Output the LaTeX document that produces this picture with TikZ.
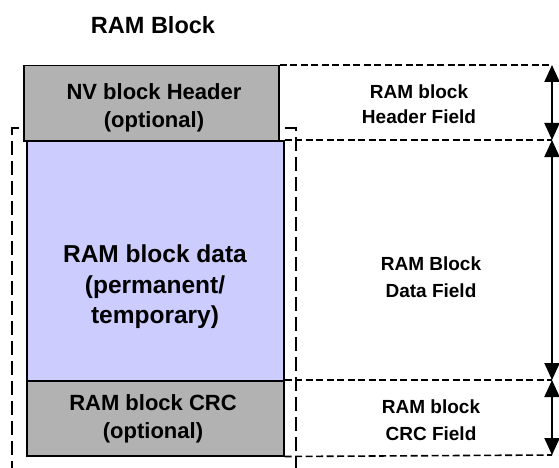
\documentclass[tikz,border=0pt]{standalone}
\usepackage{fontspec}
\setmainfont{Liberation Sans}
\usetikzlibrary{arrows.meta}
\definecolor{boxgray}{RGB}{178,178,178}
\definecolor{datablue}{RGB}{204,204,255}
\begin{document}
\begin{tikzpicture}[x=1pt,y=-1pt,
  fieldbox/.style={draw=black, line width=1.5pt, anchor=north west, inner sep=0pt},
  boxtext/.style={align=center, font=\bfseries\fontsize{22}{28}\selectfont},
  datatext/.style={align=center, font=\bfseries\fontsize{24.5}{30.5}\selectfont},
  sidetext/.style={align=center, font=\bfseries\fontsize{19}{27}\selectfont},
  guide/.style={line width=1.6pt, dash pattern=on 7pt off 3.5pt},
  outerdash/.style={line width=1.6pt, dash pattern=on 14pt off 6pt},
  dimarrow/.style={line width=2pt, {Triangle[length=17pt,width=15pt]}-{Triangle[length=17pt,width=15pt]}}
]
\useasboundingbox (0,0) rectangle (559,468);
\clip (0,0) rectangle (559,468);
% outer dashed frame (behind the boxes)
\coordinate (o1) at (12,475);
\coordinate (o2) at (12,128);
\coordinate (o3) at (296,128);
\coordinate (o4) at (296,475);
\draw[outerdash] (o1) -- (o2) -- (o3) -- (o4);
% boxes
\node[fieldbox, fill=datablue, minimum width=257pt, minimum height=240pt] (data) at (26,140) {};
\node[fieldbox, fill=boxgray, minimum width=257pt, minimum height=75pt] (crc) at (26,380) {};
\node[fieldbox, fill=boxgray, minimum width=255pt, minimum height=75pt] (hdr) at (23,65) {};
% texts
\node[font=\bfseries\fontsize{23.5}{28}\selectfont] (title) at (153,25) {RAM Block};
\node[boxtext] (hdrtxt) at (154,108) {NV block Header\\(optional)};
\node[datatext] (datatxt) at (155,287) {RAM block data\\(permanent/\\temporary)};
\node[boxtext] (crctxt) at (153,419) {RAM block CRC\\(optional)};
% guide lines
\coordinate (a1) at (552,65);
\coordinate (a2) at (552,140);
\coordinate (a3) at (552,380);
\coordinate (a4) at (552,455);
\draw[guide] (hdr.north east) -- (a1);
\draw[guide] (data.north east) -- (a2);
\draw[guide] (crc.north east) -- (a3);
\draw[guide] (crc.south east) -- (a4);
% arrows
\draw[dimarrow] (a1) -- (a2);
\draw[dimarrow] (a2) -- (a3);
\draw[dimarrow] (a3) -- (a4);
% side labels
\node[sidetext, font=\bfseries\fontsize{19}{25}\selectfont] (hdrfield) at (419,104) {RAM block\\Header Field};
\node[sidetext] (datafield) at (431,277) {RAM Block\\Data Field};
\node[sidetext] (crcfield) at (431,420) {RAM block\\CRC Field};
\end{tikzpicture}
\end{document}
